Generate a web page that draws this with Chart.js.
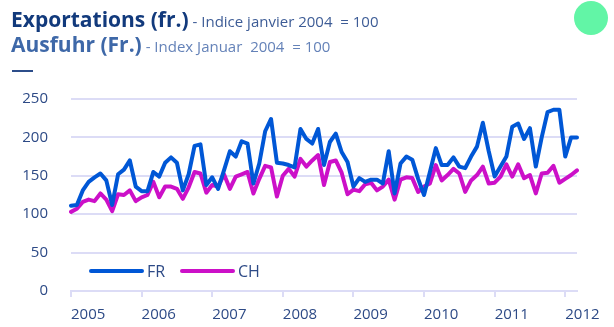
<!DOCTYPE html>
<html>
<head>
<meta charset="utf-8">
<script src="https://cdn.jsdelivr.net/npm/chart.js@4.4.1/dist/chart.umd.min.js"></script>
<style>
  body { margin: 0; background: #fff; font-family: 'Open Sans', sans-serif; }
  #wrap { position: relative; width: 614px; height: 327px; overflow: hidden; }
  #c { position: absolute; left: 0; top: 0; }
  .titre { position: absolute; left: 11px; line-height: 20px; white-space: pre; }
  .titre b { font-size: 21px; font-weight: 700; }
  .titre span { font-size: 15px; }
  #t1 { top: 9px; color: #123a7c; }
  #t1 span { color: #3d5c96; }
  #t2 { top: 34px; color: #3e68a8; }
  #t2 span { color: #6482b8; }
  #rule { position: absolute; left: 12px; top: 70px; width: 21px; height: 2px; background: #2c4d8a; }
  #dot { position: absolute; left: 574px; top: 1px; width: 34px; height: 34px; border-radius: 50%; background: #62f5a6; }
</style>
</head>
<body>
<div id="wrap">
  <canvas id="c" width="614" height="327"></canvas>
  <div class="titre" id="t1"><b>Exportations (fr.)</b><span> - Indice janvier 2004  = 100</span></div>
  <div class="titre" id="t2"><b>Ausfuhr (Fr.)</b><span> - Index Januar  2004  = 100</span></div>
  <div id="rule"></div>
  <div id="dot"></div>
</div>
<script>
// Indice mensuel des exportations, janvier 2004 = 100 (janv. 2005 – mars 2012)
const years = ['2005', '2006', '2007', '2008', '2009', '2010', '2011', '2012'];

const fr = [
  111, 112, 131, 142, 148, 153, 144, 112, 152, 158, 170, 136,
  130, 130, 155, 149, 167, 174, 167, 131, 152, 189, 191, 138,
  148, 133, 157, 182, 175, 195, 192, 140, 166, 208, 224, 167,
  166, 164, 161, 211, 198, 192, 211, 164, 194, 205, 181, 168,
  136, 147, 142, 145, 145, 140, 182, 127, 166, 175, 171, 146,
  125, 155, 186, 164, 164, 174, 162, 160, 175, 188, 219, 182,
  149, 162, 175, 214, 218, 198, 212, 162, 200, 233, 236, 236,
  175, 200, 200
];

const ch = [
  103, 107, 116, 119, 117, 127, 119, 104, 126, 125, 131, 117,
  122, 125, 142, 122, 136, 136, 133, 120, 135, 155, 153, 128,
  138, 136, 152, 133, 149, 152, 155, 127, 146, 163, 161, 123,
  150, 159, 149, 172, 162, 170, 177, 138, 168, 170, 154, 126,
  132, 130, 139, 141, 131, 136, 145, 119, 145, 148, 147, 129,
  136, 140, 164, 144, 151, 159, 153, 129, 144, 151, 162, 140,
  141, 149, 165, 149, 165, 147, 151, 127, 153, 154, 163, 141,
  146, 151, 157
];

const yTicks = [0, 50, 100, 150, 200, 250];

// une catégorie par mois
const months = [];
years.forEach(y => {
  for (let m = 1; m <= 12; m++) months.push(y + '-' + String(m).padStart(2, '0'));
});
months.length = fr.length;

const grille = '#dcdcf6';
const texte = '#2d4a86';
const police = { family: "'Open Sans', sans-serif", size: 15 };

// légende dessinée à l'intérieur de la zone du graphique
const legendeInterne = {
  id: 'legendeInterne',
  beforeDatasetsDraw(chart) {
    const { ctx, chartArea } = chart;
    let x = chartArea.left + 20;
    const y = chartArea.bottom - 20;
    ctx.save();
    ctx.font = "16px 'Open Sans', sans-serif";
    ctx.textBaseline = 'middle';
    chart.data.datasets.forEach(ds => {
      ctx.strokeStyle = ds.borderColor;
      ctx.lineWidth = 4;
      ctx.lineCap = 'round';
      ctx.beginPath();
      ctx.moveTo(x, y);
      ctx.lineTo(x + 51, y);
      ctx.stroke();
      ctx.fillStyle = texte;
      ctx.fillText(ds.label, x + 56, y + 1);
      x += 91;
    });
    ctx.restore();
  }
};

new Chart(document.getElementById('c'), {
  type: 'line',
  data: {
    labels: months,
    datasets: [
      { label: 'FR', data: fr, borderColor: '#0057d6', borderWidth: 4 },
      { label: 'CH', data: ch, borderColor: '#cc10c8', borderWidth: 4 }
    ]
  },
  options: {
    responsive: false,
    animation: false,
    devicePixelRatio: 1,
    layout: { padding: { top: 99, right: 37, left: 0, bottom: 0 } },
    elements: {
      point: { radius: 0 },
      line: { tension: 0, borderJoinStyle: 'round', borderCapStyle: 'round' }
    },
    plugins: { legend: { display: false }, tooltip: { enabled: false } },
    scales: {
      x: {
        type: 'category',
        offset: false,
        afterBuildTicks: s => { s.ticks = years.map((y, k) => ({ value: k * 12 })); },
        afterFit: s => { s.height = 36; },
        ticks: {
          autoSkip: false,
          maxRotation: 0,
          align: 'start',
          padding: 9,
          color: texte,
          font: police,
          callback: (v) => years[v / 12]
        },
        grid: { drawOnChartArea: false, drawTicks: true, tickLength: 6, color: grille, lineWidth: 2 },
        border: { display: true, color: grille, width: 2 }
      },
      y: {
        min: 0,
        max: 250,
        afterBuildTicks: s => { s.ticks = yTicks.map(v => ({ value: v })); },
        afterFit: s => { s.width = 71; },
        ticks: { padding: 23, color: texte, font: police },
        grid: { drawTicks: false, color: grille, lineWidth: 2 },
        border: { display: false }
      }
    }
  },
  plugins: [legendeInterne]
});
</script>
</body>
</html>
